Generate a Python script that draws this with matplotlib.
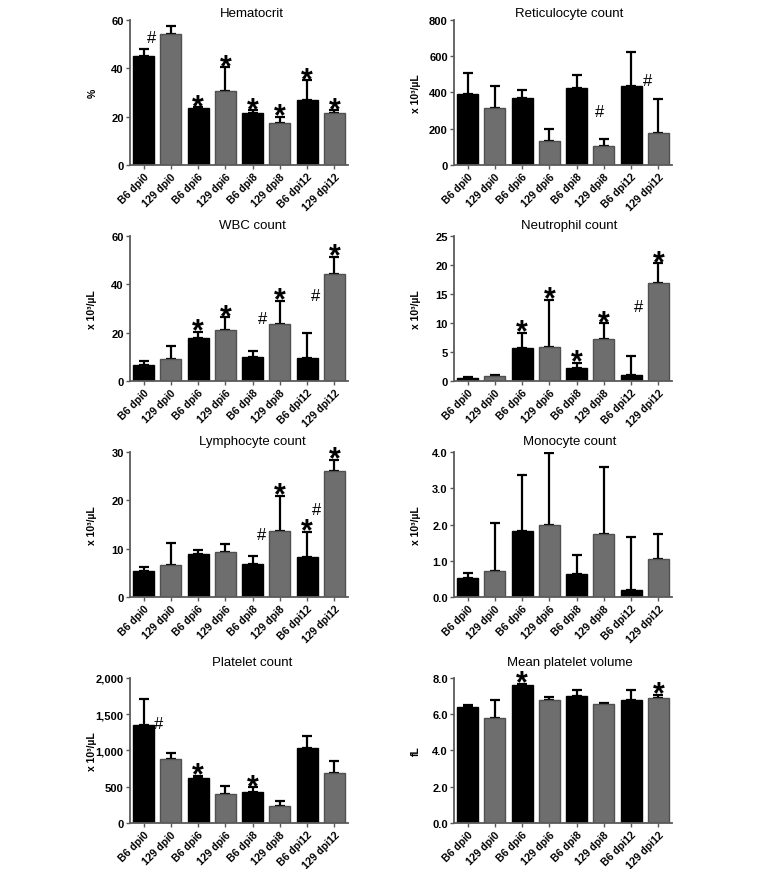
import matplotlib.pyplot as plt
import numpy as np
from matplotlib.ticker import FuncFormatter
from matplotlib.transforms import ScaledTranslation

plt.rcParams['font.family'] = ['Liberation Sans', 'DejaVu Sans']

groups = ['B6 dpi0', '129 dpi0', 'B6 dpi6', '129 dpi6',
          'B6 dpi8', '129 dpi8', 'B6 dpi12', '129 dpi12']

# mean values and upper error (SD)
hct_mean = [45.1, 54.3, 23.5, 30.8, 21.7, 17.4, 26.7, 21.7]
hct_err = [2.9, 3.1, 0.3, 9.6, 0.9, 2.5, 8.4, 0.9]

ret_mean = [394, 317, 372, 130, 425, 104, 438, 174]
ret_err = [113, 121, 44, 70, 73, 39, 188, 192]

wbc_mean = [6.8, 9.0, 17.6, 21.1, 10.1, 23.6, 9.6, 44.3]
wbc_err = [1.3, 5.3, 2.7, 5.3, 2.5, 9.5, 10.1, 7.0]

neu_mean = [0.52, 0.81, 5.76, 5.87, 2.27, 7.2, 1.1, 16.9]
neu_err = [0.18, 0.29, 2.5, 8.13, 0.87, 2.74, 3.14, 3.4]

lym_mean = [5.4, 6.6, 8.8, 9.3, 6.8, 13.6, 8.2, 26.1]
lym_err = [0.8, 4.5, 0.9, 1.6, 1.7, 7.4, 5.3, 2.3]

mon_mean = [0.52, 0.71, 1.82, 2.0, 0.64, 1.74, 0.2, 1.05]
mon_err = [0.14, 1.34, 1.55, 1.98, 0.51, 1.86, 1.45, 0.7]

plt_mean = [1346, 880, 617, 401, 429, 235, 1037, 691]
plt_err = [368, 83, 33, 106, 64, 65, 157, 157]

mpv_mean = [6.42, 5.81, 7.61, 6.78, 7.0, 6.56, 6.78, 6.91]
mpv_err = [0.09, 0.99, 0.07, 0.15, 0.32, 0.04, 0.55, 0.17]

# significance marks: '*' bar indices, '#' (x, y) in data coords
panels = [
    ('Hematocrit', '%', hct_mean, hct_err, 60, 20, '{:.0f}', [2, 3, 4, 5, 6, 7], [(0.3, 52.8)]),
    ('Reticulocyte count', 'x 10³/µL', ret_mean, ret_err, 800, 200, '{:.0f}', [], [(4.85, 295), (6.6, 465)]),
    ('WBC count', 'x 10³/µL', wbc_mean, wbc_err, 60, 20, '{:.0f}', [2, 3, 5, 7], [(4.35, 26), (6.3, 35.4)]),
    ('Neutrophil count', 'x 10³/µL', neu_mean, neu_err, 25, 5, '{:.0f}', [2, 3, 4, 5, 7], [(6.27, 12.9)]),
    ('Lymphocyte count', 'x 10³/µL', lym_mean, lym_err, 30, 10, '{:.0f}', [5, 6, 7], [(4.33, 12.9), (6.36, 18.2)]),
    ('Monocyte count', 'x 10³/µL', mon_mean, mon_err, 4, 1, '{:.1f}', [], []),
    ('Platelet count', 'x 10³/µL', plt_mean, plt_err, 2000, 500, '{:,.0f}', [2, 4], [(0.55, 1370)]),
    ('Mean platelet volume', 'fL', mpv_mean, mpv_err, 8, 2, '{:.1f}', [2, 7], []),
]

fig = plt.figure(figsize=(7.66, 8.70), dpi=100)

lefts = [0.1697, 0.5927]
bottoms = [0.8092, 0.5609, 0.3126, 0.0529]
title_pads = [3, 5.5, 5.5, 9]
w, h = 0.2846, 0.1667
axcol = '#5a5a5a'
colors = ['#000000', '#6e6e6e']
edges = ['#000000', '#505050']
shift = ScaledTranslation(4 / 100, 0, fig.dpi_scale_trans)

x = np.arange(len(groups))
for k, (title, ylab, mean, err, ymax, step, fmt, stars, hashes) in enumerate(panels):
    ax = fig.add_axes([lefts[k % 2], bottoms[k // 2], w, h])
    ax.bar(x, mean, width=0.77, color=[colors[i % 2] for i in x],
           edgecolor=[edges[i % 2] for i in x], linewidth=1, zorder=2)
    ax.errorbar(x, mean, yerr=[np.zeros(len(x)), err], fmt='none', ecolor='black',
                elinewidth=1.6, capsize=3.8, capthick=1.6, zorder=1)
    ax.set_xlim(-0.5, 7.5)
    ax.set_ylim(0, ymax)
    ax.set_yticks(np.arange(0, ymax + step / 2, step))
    ax.yaxis.set_major_formatter(FuncFormatter(lambda v, p, f=fmt: f.format(v)))
    ax.set_xticks(x)
    ax.set_xticklabels(groups, rotation=45, ha='right', va='top', rotation_mode='anchor',
                       fontsize=7.6, fontweight='bold')
    for lab in ax.get_xticklabels():
        lab.set_transform(lab.get_transform() + shift)
    for lab in ax.get_yticklabels():
        lab.set_fontweight('bold')
        lab.set_fontsize(8)
    ax.tick_params(axis='both', direction='out', length=3, width=1, color=axcol, pad=1.5)
    for s in ['top', 'right']:
        ax.spines[s].set_visible(False)
    for s in ['left', 'bottom']:
        ax.spines[s].set_color(axcol)
        ax.spines[s].set_linewidth(1.3)
    ax.set_ylabel(ylab, fontsize=7.5, fontweight='bold')
    ax.yaxis.set_label_coords(-0.15, 0.5)
    ax.set_title(title, fontsize=9.5, x=0.56 if k % 2 == 0 else 0.53, pad=title_pads[k // 2])

    for i in stars:
        ax.annotate('*', xy=(i, mean[i] + err[i]), xytext=(0, -5.5), textcoords='offset points',
                    ha='center', va='baseline', fontsize=22, fontweight='bold')
    for hx, hy in hashes:
        ax.text(hx, hy, '#', ha='center', va='center', fontsize=12)

plt.savefig('out.png', dpi=100)
